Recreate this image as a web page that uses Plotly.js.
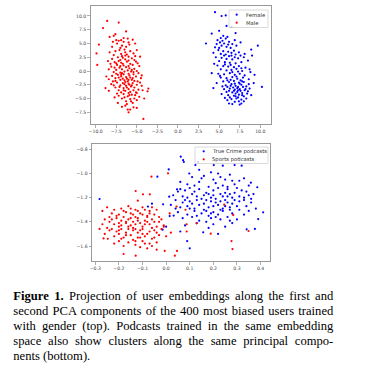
<!DOCTYPE html>
<html>
<head>
<meta charset="utf-8">
<script src="https://cdn.plot.ly/plotly-3.0.1.min.js"></script>
<style>
html,body{margin:0;padding:0;background:#fff;}
#wrap{position:relative;width:368px;height:379px;overflow:hidden;}
#chart{position:absolute;left:0;top:0;width:368px;height:379px;}
#cap{position:absolute;left:13.3px;top:289px;width:320px;font-family:"Liberation Serif",serif;font-size:12.6px;line-height:14.9px;color:#000;}
#cap div{white-space:nowrap;}
#cap .j{text-align:justify;text-align-last:justify;white-space:normal;}
</style>
</head>
<body>
<div id="wrap">
<div id="chart"></div>
<div id="cap">
<div class="j"><b>Figure 1.</b> Projection of user embeddings along the first and</div>
<div class="j">second PCA components of the 400 most biased users trained</div>
<div class="j">with gender (top). Podcasts trained in the same embedding</div>
<div class="j">space also show clusters along the same principal compo-</div>
<div>nents (bottom).</div>
</div>
</div>
<script>
// ---- data ----
const topLabels = ["Female", "Male"];
const bottomLabels = ["True Crime podcasts", "Sports podcasts"];

const femaleTop = [
[4.5,10.7],[5.3,10.0],[5.8,10.1],[3.4,5.0],[4.1,6.8],[9.7,4.6],[10.2,-2.9],[4.3,-3.1],[6.2,-5.9],[7.5,-6.1],[7.7,-5.9],[9.0,2.8],[8.9,3.9],[4.1,-0.4],[5.9,8.2],[6.5,8.0],[7.0,6.9],[7.6,5.2],[5.0,7.3],[4.8,5.6],
[5.5,6.4],[5.2,6.0],[5.8,5.9],[4.7,4.9],[5.1,5.2],[5.6,5.0],[6.2,5.3],[6.6,4.9],[5.3,4.6],[4.5,4.3],[5.9,4.4],[6.4,4.2],[7.1,4.6],[4.9,3.8],[5.5,3.6],[6.1,3.5],[6.8,3.7],[7.4,3.4],[5.2,3.1],[5.8,3.0],[6.5,2.8],[4.3,3.3],[7.0,3.0],[8.1,3.1],[6.0,6.2],[6.9,5.6],[5.0,4.2],
[4.6,2.5],[5.3,2.4],[5.9,2.2],[6.6,2.1],[7.3,2.3],[8.0,2.5],[8.5,1.9],[5.0,1.8],[5.7,1.6],[6.3,1.5],[7.0,1.4],[7.7,1.6],[4.8,1.0],[5.5,0.9],[6.1,0.8],[6.8,0.7],[7.4,0.9],[8.2,0.6],[5.2,0.3],[5.9,0.1],[6.5,0.2],[7.1,0.4],[7.8,0.0],[8.7,0.3],[6.2,2.7],[4.4,1.3],[7.6,2.8],
[4.9,-0.5],[5.6,-0.6],[6.3,-0.4],[6.9,-0.7],[7.5,-0.5],[8.1,-0.8],[5.2,-1.2],[5.9,-1.3],[6.6,-1.1],[7.2,-1.4],[7.9,-1.2],[8.6,-1.5],[5.5,-1.9],[6.2,-2.0],[6.8,-1.8],[7.4,-2.1],[8.0,-2.0],[4.7,-2.2],[5.8,-2.6],[6.5,-2.4],[7.0,-2.7],[7.7,-2.5],[8.3,-2.8],[6.0,-2.9],[7.3,-2.9],[9.2,-2.2],[8.8,-0.2],[6.4,-1.6],[7.6,-1.7],[5.4,-2.8],[6.9,-2.3],[7.1,-1.0],
[5.6,-3.3],[6.3,-3.2],[6.9,-3.4],[7.5,-3.3],[8.1,-3.5],[8.7,-3.2],[5.9,-3.8],[6.6,-3.9],[7.2,-3.8],[7.8,-4.0],[8.4,-4.1],[6.1,-4.4],[6.8,-4.5],[7.4,-4.3],[8.0,-4.6],[8.9,-4.4],[5.7,-4.9],[6.5,-5.1],[7.1,-5.0],[7.7,-5.2],[8.3,-5.0],[6.9,-5.6],[7.3,-4.8],[6.2,-3.6],[7.0,-4.1],[8.5,-3.7],[7.6,-3.6],[5.3,-4.2],
[6.7,-3.0],[7.2,-3.1],[7.9,-2.9],[6.4,-2.7],[7.5,-2.3],[6.8,-3.6],[7.3,-3.5],[8.2,-3.3],[6.0,-1.7],[7.8,-1.9],[6.6,-0.2],[7.3,-0.1],[5.7,1.2],[6.4,1.1],[6.9,2.5],[5.6,2.8],[6.1,4.8],[5.4,5.5],[7.8,-4.4],[7.0,-4.6],[6.3,-4.8],[8.0,-5.5],[7.4,-5.5],[6.6,-6.0],[8.6,-2.4],[5.1,-0.9],[7.7,0.5],[6.5,3.3],[6.0,-5.3],[9.3,-0.7]
];

const maleTop = [
[-8.6,9.1],[-9.1,7.8],[-7.2,8.8],[-6.3,7.2],[-7.6,6.7],[-8.3,6.2],[-7.8,6.4],[-9.6,4.8],[-5.5,5.7],[-7.5,5.6],[-7.2,5.5],[-6.9,5.6],[-6.6,5.3],[-6.0,5.2],[-7.4,5.0],[-6.8,4.6],[-5.9,4.8],[-6.3,4.4],[-7.0,4.2],[-5.2,5.0],[-8.0,4.4],[-6.6,6.0],[-6.1,5.9],[-7.9,5.3],
[-9.9,3.2],[-8.3,3.4],[-7.6,3.6],[-7.1,3.8],[-6.5,3.9],[-5.8,3.6],[-5.4,3.2],[-6.9,3.1],[-6.2,3.0],[-7.8,2.9],[-5.0,3.8],[-6.0,2.6],[-7.3,2.5],[-6.7,2.4],[-5.6,2.3],[-8.0,2.2],[-4.6,2.6],[-7.0,2.0],[-6.4,2.1],[-5.3,2.0],[-4.9,1.4],[-8.5,1.8],
[-9.8,1.1],[-7.7,1.6],[-6.9,1.5],[-6.2,1.7],[-5.8,1.3],[-7.4,1.1],[-6.6,1.0],[-5.5,1.1],[-8.1,0.8],[-7.1,0.6],[-6.3,0.7],[-5.9,0.5],[-6.8,0.3],[-5.3,0.4],[-7.5,0.2],[-6.1,0.1],[-6.5,-0.1],[-7.8,-0.2],[-5.7,-0.1],[-7.0,-0.3],[-4.7,0.9],[-5.0,0.0],[-8.4,0.3],[-6.0,1.9],[-7.2,1.8],[-6.7,1.3],
[-8.0,-0.9],[-7.3,-0.7],[-6.6,-0.6],[-6.0,-0.5],[-5.4,-0.6],[-6.9,-1.0],[-6.3,-1.1],[-5.8,-1.2],[-7.6,-1.3],[-5.1,-1.0],[-8.4,-1.5],[-7.0,-1.6],[-6.5,-1.7],[-5.6,-1.6],[-6.1,-1.9],[-4.5,-1.3],[-7.9,-1.9],[-5.3,-1.8],[-6.8,-0.4],[-5.9,-0.8],[-7.5,-0.5],[-6.2,-1.4],[-4.8,-0.4],[-8.7,-1.0],[-7.2,-1.2],
[-7.4,-2.1],[-6.7,-2.2],[-6.0,-2.3],[-5.5,-2.2],[-8.1,-2.4],[-7.0,-2.6],[-6.3,-2.7],[-5.7,-2.8],[-5.0,-2.5],[-4.4,-2.7],[-7.6,-3.0],[-6.6,-3.1],[-6.0,-3.3],[-5.3,-3.0],[-8.8,-3.1],[-3.6,-3.2],[-3.7,-3.7],[-4.8,-3.4],[-7.2,-3.5],[-6.4,-3.6],[-5.8,-3.8],[-5.1,-3.9],[-6.9,-3.9],[-4.3,-3.5],[-7.8,-2.6],[-5.9,-2.5],[-6.5,-2.4],[-5.4,-3.5],[-4.6,-2.1],[-8.4,-3.6],
[-6.6,-4.2],[-5.6,-4.3],[-7.2,-4.5],[-6.1,-4.6],[-5.2,-4.4],[-4.1,-5.0],[-6.8,-5.0],[-5.8,-5.1],[-5.0,-5.3],[-7.3,-5.8],[-6.3,-5.5],[-5.5,-5.8],[-6.0,-4.0],[-4.7,-4.7],[-7.7,-4.8],[-5.3,-5.0],
[-6.1,-7.0],[-5.8,-7.0],[-6.8,-6.5],[-5.4,-6.6],[-6.4,-6.3],[-5.0,-6.7],[-4.2,-8.7],[-6.0,-7.5],
[-6.4,2.8],[-5.2,2.7],[-7.5,1.4],[-6.0,0.9],[-5.6,0.2],[-6.9,-0.7],[-6.4,-2.0],[-5.6,-2.6],[-7.1,-2.9],[-6.2,-3.0],[-5.5,-1.3],[-6.7,-1.4],[-7.7,0.6],[-6.4,3.4],[-5.9,-4.4],[-6.5,-4.8],[-4.9,-1.9],[-7.4,-4.1],[-6.2,-6.0],[-5.7,-5.5],[-8.2,1.3],[-4.4,-0.8],[-5.1,1.7],[-6.8,2.7],[-7.6,-1.8],[-5.0,-4.0],[-6.0,-1.6],[-6.6,-3.5],[-7.0,0.9],[-5.4,-0.2]
];

const trueCrime = [
[0.062,-0.861],[0.072,-0.89],[0.075,-0.905],[0.011,-0.966],[-0.037,-1.026],[0.359,-1.076],[0.386,-1.114],[0.411,-1.321],[0.39,-1.377],[0.376,-1.459],[0.341,-1.462],[0.089,-1.559],[0.157,-1.487],[0.100,-1.619],[-0.282,-1.211],[-0.077,-1.274],[-0.013,-1.255],[0.013,-1.192],[0.015,-1.352],[0.032,-1.348],[0.046,-1.131],[0.124,-0.93],[0.135,-0.905],[0.202,-0.93],[0.24,-0.935],[0.305,-0.874],[0.29,-0.93],[0.32,-0.935],[-0.06,-1.25],[0.098,-1.0],[-0.015,-1.465],[0.0,-1.44],
[0.11,-1.03],[0.16,-1.02],[0.19,-0.99],[0.23,-1.03],[0.27,-1.01],[0.31,-1.06],[0.14,-1.07],[0.21,-1.08],[0.25,-1.05],[0.29,-1.09],[0.33,-1.04],[0.09,-1.09],[0.18,-1.11],[0.12,-1.1],[0.26,-1.11],[0.35,-1.10],[0.2,-1.05],[0.06,-1.07],
[0.05,-1.15],[0.08,-1.14],[0.11,-1.17],[0.14,-1.13],[0.17,-1.16],[0.2,-1.14],[0.23,-1.17],[0.26,-1.13],[0.29,-1.16],[0.32,-1.14],[0.35,-1.18],[0.07,-1.19],[0.13,-1.19],[0.19,-1.2],[0.24,-1.19],[0.28,-1.2],[0.31,-1.19],[0.34,-1.15],[0.37,-1.17],[0.1,-1.12],[0.16,-1.18],[0.22,-1.12],[0.27,-1.17],[0.03,-1.18],[0.09,-1.2],
[0.04,-1.22],[0.07,-1.24],[0.1,-1.23],[0.13,-1.22],[0.16,-1.25],[0.19,-1.23],[0.22,-1.26],[0.25,-1.22],[0.28,-1.25],[0.31,-1.23],[0.34,-1.27],[0.06,-1.28],[0.12,-1.29],[0.15,-1.21],[0.18,-1.28],[0.21,-1.21],[0.24,-1.29],[0.27,-1.28],[0.3,-1.27],[0.33,-1.22],[0.36,-1.24],[0.02,-1.26],[0.09,-1.27],[0.2,-1.27],[0.26,-1.24],[0.14,-1.26],[0.38,-1.29],[0.23,-1.23],
[0.05,-1.32],[0.09,-1.34],[0.12,-1.31],[0.15,-1.33],[0.18,-1.35],[0.2,-1.32],[0.22,-1.34],[0.24,-1.31],[0.26,-1.36],[0.28,-1.33],[0.3,-1.38],[0.17,-1.31],[0.19,-1.37],[0.23,-1.38],[0.14,-1.39],[0.07,-1.37],[0.27,-1.3],[0.21,-1.36],[0.11,-1.36],[0.33,-1.34],
[0.08,-1.43],[0.13,-1.41],[0.2,-1.42],[0.25,-1.44],[0.18,-1.45],[0.22,-1.5],[0.06,-1.48],[0.28,-1.41],
[0.15,-1.04],[0.22,-1.0],[0.3,-1.12],[0.12,-1.15],[0.18,-1.17],[0.25,-1.16],[0.33,-1.2],[0.08,-1.22],[0.17,-1.22],[0.21,-1.24],[0.29,-1.22],[0.35,-1.31],[0.1,-1.29],[0.16,-1.3],[0.25,-1.27],[0.19,-1.33],[0.23,-1.3],[0.13,-1.35],[0.27,-1.39],[0.31,-1.3],[0.06,-1.13],[0.04,-1.29],[0.24,-1.1],[0.14,-0.97],[0.28,-1.06],[0.36,-1.21],[0.11,-1.25],[0.2,-1.18],[0.17,-1.4],[0.26,-1.19]
];

const sports = [
[-0.062,-1.026],[0.008,-0.999],[-0.129,-1.145],[-0.098,-1.172],[-0.069,-1.172],[-0.12,-1.225],[-0.282,-1.459],[-0.265,-1.537],[-0.247,-1.54],[-0.18,-1.666],[-0.129,-1.68],[-0.04,-1.63],[-0.006,-1.641],[0.037,-1.68],[0.046,-1.641],[0.277,-1.559],[0.281,-1.625],[0.349,-1.476],[0.129,-1.412],[0.189,-1.498],[0.284,-1.343],[0.246,-1.258],[0.087,-1.42],[0.087,-1.48],[0.015,-1.33],[0.044,-1.274],[0.082,-1.30],[-0.01,-1.44],[0.0,-1.52],[0.02,-1.49],
[-0.25,-1.28],[-0.22,-1.3],[-0.19,-1.29],[-0.16,-1.27],[-0.13,-1.3],[-0.1,-1.28],[-0.07,-1.31],[-0.04,-1.3],[-0.23,-1.33],[-0.2,-1.34],[-0.17,-1.32],[-0.14,-1.34],[-0.11,-1.33],[-0.08,-1.35],[-0.05,-1.34],[-0.27,-1.31],[-0.12,-1.31],[-0.09,-1.3],
[-0.26,-1.38],[-0.24,-1.4],[-0.21,-1.37],[-0.19,-1.39],[-0.16,-1.38],[-0.14,-1.4],[-0.12,-1.37],[-0.09,-1.39],[-0.06,-1.38],[-0.03,-1.4],[-0.22,-1.42],[-0.2,-1.44],[-0.17,-1.41],[-0.15,-1.43],[-0.13,-1.42],[-0.1,-1.44],[-0.07,-1.42],[-0.04,-1.44],[-0.01,-1.43],[-0.25,-1.45],[-0.18,-1.36],[-0.11,-1.41],[-0.08,-1.36],[-0.23,-1.38],[-0.05,-1.4],[-0.15,-1.37],[-0.02,-1.38],[-0.19,-1.43],
[-0.24,-1.47],[-0.21,-1.48],[-0.19,-1.46],[-0.17,-1.49],[-0.14,-1.47],[-0.12,-1.49],[-0.1,-1.46],[-0.07,-1.48],[-0.05,-1.47],[-0.02,-1.46],[-0.22,-1.52],[-0.18,-1.53],[-0.15,-1.51],[-0.12,-1.53],[-0.09,-1.52],[-0.06,-1.54],[-0.03,-1.51],[-0.2,-1.5],[-0.13,-1.46],[-0.08,-1.5],[-0.16,-1.46],[-0.26,-1.5],
[-0.2,-1.56],[-0.16,-1.57],[-0.13,-1.59],[-0.1,-1.56],[-0.07,-1.58],[-0.04,-1.57],[-0.18,-1.6],[-0.11,-1.61],[-0.08,-1.62],[-0.14,-1.55],[-0.06,-1.6],[-0.22,-1.58],
[-0.21,-1.35],[-0.18,-1.31],[-0.15,-1.29],[-0.06,-1.28],[-0.24,-1.36],[-0.13,-1.36],[-0.1,-1.34],[-0.17,-1.4],[-0.12,-1.39],[-0.09,-1.42],[-0.2,-1.41],[-0.14,-1.45],[-0.06,-1.45],[-0.23,-1.46],[-0.11,-1.47],[-0.04,-1.49],[-0.17,-1.51],[-0.1,-1.5],[-0.19,-1.54],[-0.13,-1.56],[-0.05,-1.53],[-0.09,-1.58],[-0.16,-1.44],[-0.08,-1.4],[-0.27,-1.42],[-0.03,-1.36],[-0.15,-1.33],[-0.07,-1.33],[-0.2,-1.47],[-0.11,-1.53]
];

// ---- drawing ----
const W = 368, H = 379;
const px = v => v / W;
const py = v => 1 - v / H;
const BLUE = '#0000ff', RED = '#ff0000';

function tr(pts, name, color, xa, ya) {
  return {
    type: 'scatter', mode: 'markers', name: name,
    x: pts.map(p => p[0]), y: pts.map(p => p[1]),
    xaxis: xa, yaxis: ya,
    marker: {color: color, size: 2.2, line: {width: 0}},
    hoverinfo: 'skip'
  };
}

const data = [
  tr(femaleTop, topLabels[0], BLUE, 'x', 'y'),
  tr(maleTop, topLabels[1], RED, 'x', 'y'),
  tr(trueCrime, bottomLabels[0], BLUE, 'x2', 'y2'),
  tr(sports, bottomLabels[1], RED, 'x2', 'y2')
];

const axCommon = {
  showline: true, mirror: true, linecolor: '#999', linewidth: 1,
  ticks: 'outside', ticklen: 2.5, tickwidth: 0.8, tickcolor: '#999',
  tickfont: {family: 'DejaVu Sans', size: 4.6, color: '#444'},
  showgrid: false, zeroline: false, tickmode: 'linear', tickformat: '.1f',
  fixedrange: true
};

const layout = {
  width: W, height: H,
  margin: {l: 0, r: 0, t: 0, b: 0},
  paper_bgcolor: '#fff', plot_bgcolor: '#fff',
  showlegend: false,
  xaxis: Object.assign({}, axCommon, {domain: [px(90.7), px(271)], range: [-10.6, 11.3], tick0: -10, dtick: 2.5, anchor: 'y'}),
  yaxis: Object.assign({}, axCommon, {domain: [py(124), py(5.7)], range: [-9.63, 11.87], tick0: -7.5, dtick: 2.5, anchor: 'x'}),
  xaxis2: Object.assign({}, axCommon, {domain: [px(92), px(270)], range: [-0.314, 0.44], tick0: 0, dtick: 0.1, anchor: 'y2'}),
  yaxis2: Object.assign({}, axCommon, {domain: [py(261), py(144)], range: [-1.724, -0.756], tick0: -0.8, dtick: 0.2, anchor: 'x2'}),
  shapes: [],
  annotations: []
};

function legendBox(x0, y0, x1, y1, labels, colors, mx, tx, rows) {
  layout.shapes.push({type: 'rect', xref: 'paper', yref: 'paper', layer: 'above',
    x0: px(x0), x1: px(x1), y0: py(y1), y1: py(y0),
    line: {color: '#d0d0d0', width: 0.8}, fillcolor: 'rgba(255,255,255,0.8)'});
  labels.forEach((lab, i) => {
    const r = 1.1;
    layout.shapes.push({type: 'circle', xref: 'paper', yref: 'paper', layer: 'above',
      x0: px(mx - r), x1: px(mx + r), y0: py(rows[i] + r), y1: py(rows[i] - r),
      line: {width: 0}, fillcolor: colors[i]});
    layout.annotations.push({xref: 'paper', yref: 'paper', x: px(tx), y: py(rows[i]),
      xanchor: 'left', yanchor: 'middle', showarrow: false, text: lab, borderpad: 0,
      font: {family: 'DejaVu Sans', size: 5.3, color: '#333'}});
  });
}
legendBox(229, 10, 268, 27.5, topLabels, [BLUE, RED], 236.7, 245, [14.7, 22.7]);
legendBox(195, 147, 268, 163.5, bottomLabels, [BLUE, RED], 203.7, 211.3, [151.3, 159.3]);

Plotly.newPlot('chart', data, layout, {staticPlot: true, displayModeBar: false});
</script>
</body>
</html>
